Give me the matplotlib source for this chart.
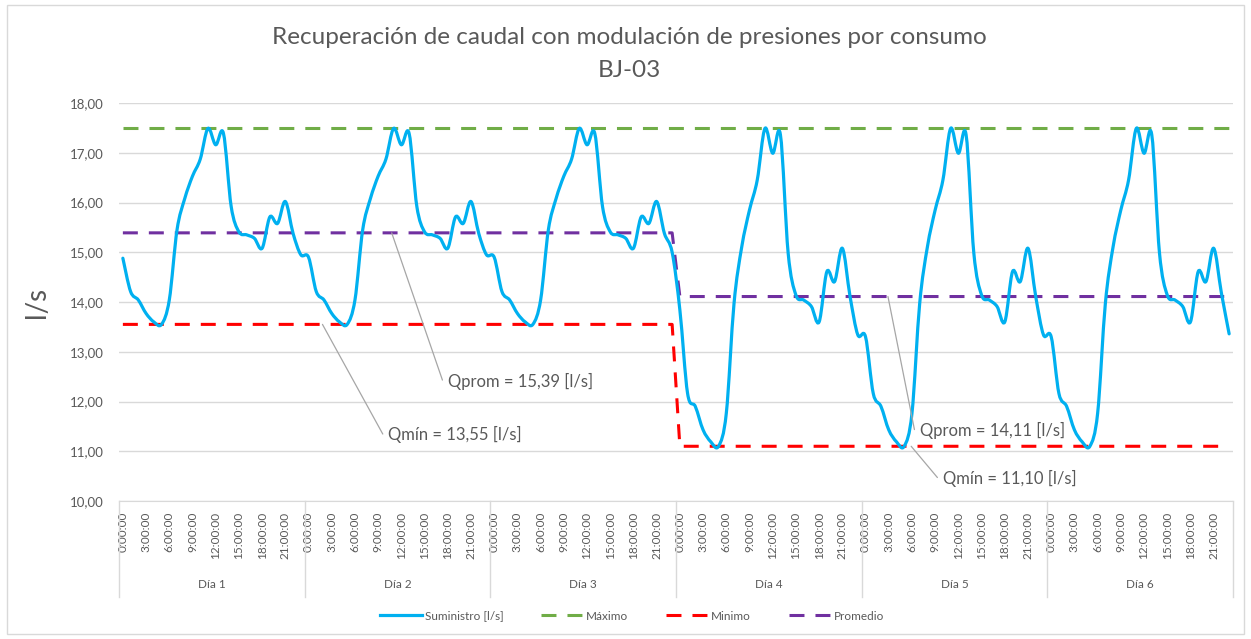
"""
Caudal suministrado en el sector BJ-03 durante seis días, con las líneas de
máximo, mínimo y promedio antes y después de la modulación de presiones.
"""
import numpy as np
import matplotlib.pyplot as plt
import matplotlib.transforms as mtransforms
from matplotlib.lines import Line2D
from matplotlib.patches import PathPatch, Rectangle
from matplotlib.path import Path
from matplotlib.ticker import FuncFormatter


TITLE = "Recuperación de caudal con modulación de presiones por consumo\nBJ-03"
DAYS = ["Día 1", "Día 2", "Día 3", "Día 4", "Día 5", "Día 6"]
HOUR_LABELS = [f"{h}:00:00" for h in range(24)]
SERIES_NAMES = ["Suministro [l/s]", "Máximo", "Minimo", "Promedio"]

# caudal horario [l/s], un valor por hora de cada día
DAY_1 = [14.88, 14.21, 14.04, 13.77, 13.60, 13.55, 14.04, 15.45, 16.08, 16.53, 16.87, 17.49,
         17.16, 17.39, 15.92, 15.41, 15.35, 15.28, 15.08, 15.71, 15.58, 16.02, 15.38, 14.95]
DAY_2 = [14.90, 14.21, 14.04, 13.77, 13.60, 13.55, 14.04, 15.45, 16.08, 16.53, 16.87, 17.49,
         17.16, 17.39, 15.92, 15.41, 15.35, 15.28, 15.08, 15.71, 15.58, 16.02, 15.38, 14.95]
DAY_3 = [14.90, 14.21, 14.04, 13.77, 13.60, 13.55, 14.04, 15.45, 16.08, 16.53, 16.87, 17.49,
         17.16, 17.39, 15.92, 15.41, 15.35, 15.28, 15.08, 15.71, 15.58, 16.02, 15.38, 15.00]
DAY_4 = [13.84, 12.16, 11.90, 11.43, 11.19, 11.10, 11.76, 13.97, 15.11, 15.85, 16.45, 17.49,
         16.99, 17.36, 14.98, 14.14, 14.04, 13.91, 13.60, 14.61, 14.41, 15.08, 14.11, 13.34]
DAY_5 = [13.30, 12.16, 11.90, 11.43, 11.19, 11.10, 11.76, 13.97, 15.11, 15.85, 16.45, 17.49,
         16.99, 17.36, 14.98, 14.14, 14.04, 13.91, 13.60, 14.61, 14.41, 15.08, 14.11, 13.34]
DAY_6 = [13.30, 12.16, 11.90, 11.43, 11.19, 11.10, 11.76, 13.97, 15.11, 15.85, 16.45, 17.49,
         16.99, 17.36, 14.98, 14.14, 14.04, 13.91, 13.60, 14.61, 14.41, 15.08, 14.18, 13.36]

# valores de referencia por día [l/s]
MAX_BY_DAY = [17.49, 17.49, 17.49, 17.49, 17.49, 17.49]
MIN_BY_DAY = [13.55, 13.55, 13.55, 11.10, 11.10, 11.10]
AVG_BY_DAY = [15.39, 15.39, 15.39, 14.11, 14.11, 14.11]

BLUE = "#00b0f0"
GREEN = "#70ad47"
RED = "#ff0000"
PURPLE = "#7030a0"
TEXT = "#595959"
GRID = "#d9d9d9"
LEADER = "#a6a6a6"
DASHES = (4.9, 3.6)


def smooth_path(x, y):
    """Curva suavizada (Bezier) que pasa por cada punto horario."""
    pts = np.column_stack([x, y])
    prev = np.vstack([pts[:1], pts[:-1]])
    nxt = np.vstack([pts[1:], pts[-1:]])
    tangent = (nxt - prev) / 6.0
    verts, codes = [pts[0]], [Path.MOVETO]
    for i in range(len(pts) - 1):
        verts += [pts[i] + tangent[i], pts[i + 1] - tangent[i + 1], pts[i + 1]]
        codes += [Path.CURVE4] * 3
    return Path(verts, codes)


def comma(v, _pos=None):
    return f"{v:.2f}".replace(".", ",")


def main():
    plt.rcParams["font.family"] = ["Lato", "DejaVu Sans"]
    supply = np.concatenate([DAY_1, DAY_2, DAY_3, DAY_4, DAY_5, DAY_6])
    hours = np.arange(len(supply))
    n_h = len(HOUR_LABELS)
    maximum = np.repeat(MAX_BY_DAY, n_h)
    minimum = np.repeat(MIN_BY_DAY, n_h)
    average = np.repeat(AVG_BY_DAY, n_h)

    fig = plt.figure(figsize=(12.51, 6.39), dpi=100)
    ax = fig.add_axes([119 / 1251, 1 - 501 / 639, (1233 - 119) / 1251, (501 - 103) / 639])

    lw = 2.2
    ax.plot(hours, maximum, color=GREEN, lw=lw, dashes=DASHES, zorder=3)
    ax.plot(hours, minimum, color=RED, lw=lw, dashes=DASHES, zorder=3)
    ax.plot(hours, average, color=PURPLE, lw=lw, dashes=DASHES, zorder=3)
    ax.add_patch(PathPatch(smooth_path(hours, supply), fill=False, edgecolor=BLUE,
                           lw=2.3, capstyle="round", joinstyle="round", zorder=4))

    ax.set_xlim(-0.5, len(supply) - 0.5)
    ax.set_ylim(10, 18)
    ax.set_yticks(np.arange(10, 18.5, 1))
    ax.yaxis.set_major_formatter(FuncFormatter(comma))
    ax.grid(axis="y", color=GRID, lw=1)
    ax.set_axisbelow(True)
    for side in ("top", "right", "left"):
        ax.spines[side].set_visible(False)
    ax.spines["bottom"].set_color(GRID)
    ax.tick_params(axis="y", length=0, pad=11, labelsize=9.5, labelcolor=TEXT)
    ax.set_ylabel("l/s", fontsize=20, color=TEXT, labelpad=14)

    # eje de categorías en dos niveles: horas y días
    ticks = hours[::3]
    ax.set_xticks(ticks)
    ax.set_xticklabels([HOUR_LABELS[t % n_h] for t in ticks], rotation=90,
                       va="top", ha="center")
    ax.tick_params(axis="x", length=0, pad=8, labelsize=8.5, labelcolor=TEXT)
    trans = mtransforms.blended_transform_factory(ax.transData, ax.transAxes)
    for k in range(len(DAYS) + 1):
        ax.plot([k * n_h - 0.5] * 2, [0, -0.242], transform=trans, color=GRID,
                lw=1, clip_on=False)
    for k, day in enumerate(DAYS):
        ax.text(k * n_h + (n_h - 1) / 2, -0.211, day, transform=trans, ha="center",
                va="center", fontsize=8.5, color=TEXT)

    # etiquetas de los valores de referencia
    labels = [
        (f"Qprom = {comma(AVG_BY_DAY[0])} [l/s]", 34.75, AVG_BY_DAY[0], 42.0, 12.41),
        (f"Qmín = {comma(MIN_BY_DAY[0])} [l/s]", 25.8, MIN_BY_DAY[0], 34.3, 11.33),
        (f"Qprom = {comma(AVG_BY_DAY[3])} [l/s]", 98.9, AVG_BY_DAY[3], 103.0, 11.41),
        (f"Qmín = {comma(MIN_BY_DAY[3])} [l/s]", 101.9, MIN_BY_DAY[3], 106.0, 10.46),
    ]
    for text, x0, y0, x1, y1 in labels:
        ax.annotate(
            text, xy=(x0, y0), xytext=(x1, y1), ha="left", va="center",
            fontsize=12, color=TEXT, zorder=5,
            arrowprops=dict(arrowstyle="-", color=LEADER, lw=0.9, shrinkA=2, shrinkB=0,
                            relpos=(0, 0.5),
                            connectionstyle="arc,angleA=180,armA=5,angleB=0,armB=0,rad=0"),
        )

    fig.text(629 / 1251, 1 - 54 / 639, TITLE, ha="center", va="center", fontsize=17.5,
             color=TEXT, linespacing=1.7)

    handles = [
        Line2D([], [], color=BLUE, lw=2.3),
        Line2D([], [], color=GREEN, lw=lw, dashes=DASHES),
        Line2D([], [], color=RED, lw=lw, dashes=DASHES),
        Line2D([], [], color=PURPLE, lw=lw, dashes=DASHES),
    ]
    fig.legend(handles, SERIES_NAMES,
               loc="center", bbox_to_anchor=(632 / 1251, 1 - 616 / 639), ncol=4,
               frameon=False, fontsize=8.5, handlelength=3.6, handletextpad=0.2,
               columnspacing=3.2, labelcolor=TEXT)

    fig.add_artist(Rectangle((7 / 1251, 5 / 639), 1237 / 1251, 629 / 639,
                             transform=fig.transFigure, fill=False,
                             edgecolor=GRID, lw=1))
    fig.savefig("out.png", dpi=100)


if __name__ == "__main__":
    main()
